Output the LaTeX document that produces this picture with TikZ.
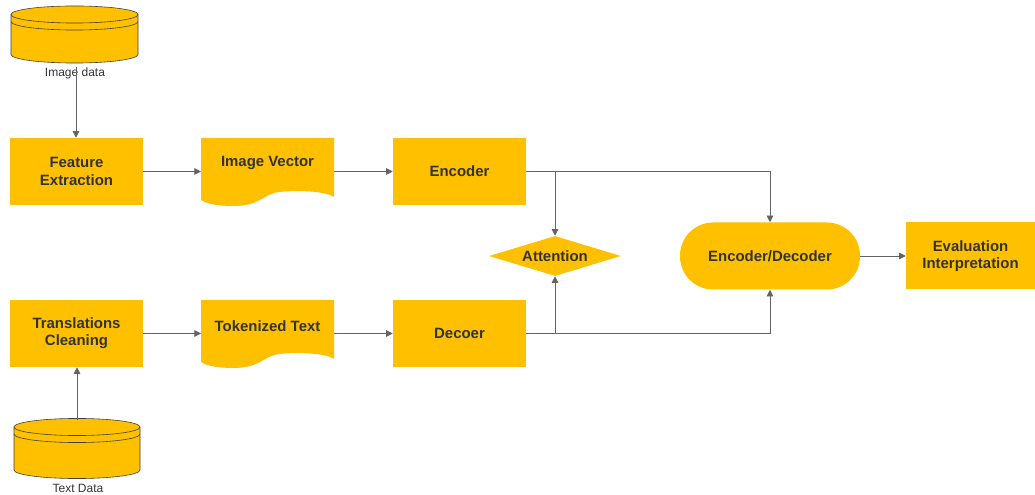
\documentclass[tikz,border=0pt]{standalone}
\usepackage{fontspec}
\setmainfont{Liberation Sans}
\usetikzlibrary{shapes.geometric,arrows.meta}
\definecolor{gold}{RGB}{255,192,0}
\definecolor{txt}{RGB}{51,51,51}
\definecolor{conn}{RGB}{100,100,100}
\tikzset{
  box/.style={fill=gold, draw=none, minimum width=133*0.75pt, minimum height=67*0.75pt, inner sep=0pt, align=center, text=txt, font=\fontsize{11.2}{13}\selectfont\bfseries},
  lbl/.style={text=txt, font=\fontsize{9}{10}\selectfont, inner sep=1pt},
  doctext/.style={text=txt, font=\fontsize{11.2}{13}\selectfont\bfseries, inner sep=0pt},
  conn/.style={draw=conn, line width=0.6pt, -{Triangle[length=5pt,width=5pt]}},
  cyledge/.style={draw=black!75, line width=0.45pt},
}
\newcommand{\mycyl}[4]{% x1 x2 ytop(center of top ellipse) ybottom(center of bottom arc)
  \pgfmathsetmacro{\cx}{(#1+#2)/2}\pgfmathsetmacro{\rx}{(#2-#1)/2*0.75}
  \fill[gold] (#1,#3) -- (#1,#4) arc[start angle=180,end angle=360,x radius=\rx pt,y radius=6.4pt] -- (#2,#3) -- cycle;
  \draw[cyledge] (#1,#3) -- (#1,#4) arc[start angle=180,end angle=360,x radius=\rx pt,y radius=6.4pt] -- (#2,#3);
  \filldraw[gold, cyledge] (\cx,#3) ellipse[x radius=\rx pt, y radius=6.4pt];
  \draw[cyledge] (#1,#3+7) arc[start angle=180,end angle=360,x radius=\rx pt,y radius=6.4pt];
}
\newcommand{\mydoc}[3]{% x1 ytop name
  \fill[gold] (#1,#2) -- (#1+133,#2) -- (#1+133,#2+59)
    .. controls (#1+125,#2+53) and (#1+95,#2+52) .. (#1+78,#2+54)
    .. controls (#1+62,#2+56) and (#1+60,#2+68) .. (#1+32,#2+68)
    .. controls (#1+12,#2+68) and (#1,#2+64) .. (#1,#2+61) -- cycle;
  \coordinate (#3-w) at (#1,#2+33.5);
  \coordinate (#3-e) at (#1+133,#2+33.5);
}
\begin{document}
\begin{tikzpicture}[x=0.75pt,y=-0.75pt]
\useasboundingbox (0,0) rectangle (1035,495);
% cylinders
\mycyl{11}{138}{14.5}{54.5}
\mycyl{14}{140}{427}{470}
\node[lbl] (imgdata) at (75,73) {Image data};
\node[lbl] (txtdata) at (78,488) {Text Data};
\coordinate (imgtop) at (76,67);
\coordinate (txttop) at (77,420);
% boxes
\node[box] (fe) at (76.5,171.5) {Feature\\Extraction};
\node[box] (enc) at (459.5,171.5) {Encoder};
\node[box] (tc) at (76.5,333.5) {Translations\\Cleaning};
\node[box] (dec) at (459.5,333.5) {Decoer};
\node[box, minimum width=129*0.75pt] (eval) at (970.5,256) {Evaluation\\Interpretation};
\node[box, rounded corners=33*0.75pt, minimum width=180*0.75pt] (ed) at (770,256) {Encoder/Decoder};
\node[diamond, fill=gold, draw=none, aspect=3.3, minimum width=132*0.75pt, minimum height=40*0.75pt, inner sep=0pt] (att) at (555,256) {};
\node[doctext] (attt) at (555,256) {Attention};
% document shapes
\mydoc{201}{138}{iv}
\mydoc{201}{300}{tt}
\node[doctext] (ivt) at (267.5,163) {Image Vector};
\node[doctext] (ttt) at (267.5,326) {Tokenized Text};
% connectors
\draw[conn] (imgtop) -- (imgtop |- fe.north);
\draw[conn] (txttop) -- (txttop |- tc.south);
\draw[conn] (fe.east) -- (iv-w);
\draw[conn] (tc.east) -- (tt-w);
\draw[conn] (iv-e) -- (enc.west);
\draw[conn] (tt-e) -- (dec.west);
\coordinate (j1) at (555,171.5);
\coordinate (j2) at (555,333.5);
\draw[conn] (enc.east) -| (ed.north);
\draw[conn] (j1) -- (att.north);
\draw[conn] (dec.east) -| (ed.south);
\draw[conn] (j2) -- (att.south);
\draw[conn] (ed.east) -- (eval.west);
\end{tikzpicture}
\end{document}
